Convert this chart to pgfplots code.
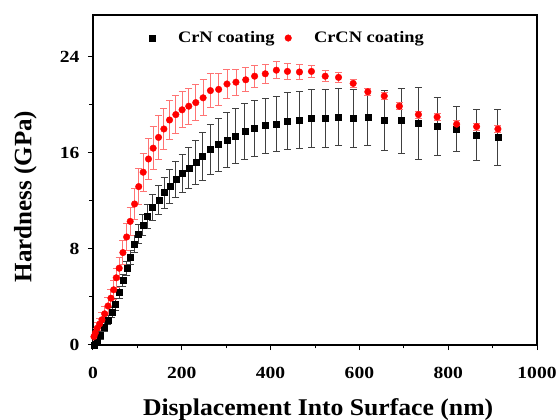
\documentclass[border=0pt]{standalone}
\usepackage{graphicx}
\usepackage{pgfplots}
\usepackage{pgfplotstable}
\usepackage{fontspec}
\setmainfont{Liberation Serif}
\pgfplotsset{compat=1.18}
\pgfplotstableread{
x y e
3 0.0 0.2
9.7 0.2 0.3
17.2 0.8 0.3
26.2 1.5 0.4
33.7 2.1 0.4
42.7 2.7 0.4
51 3.4 0.5
60 4.4 0.5
67.4 5.4 0.5
76.4 6.4 0.6
83.8 7.3 0.6
93.7 8.4 0.7
102.7 9.25 0.8
112.4 10.0 0.9
122 10.75 1.0
134 11.45 1.1
148 12.1 1.2
160 12.7 1.3
173 13.2 1.4
186.5 13.8 1.5
200.7 14.3 1.6
215.7 14.75 1.7
231.5 15.2 1.85
247 15.75 2.0
264.5 16.3 2.1
282.5 16.7 2.2
301.8 17.1 2.3
321 17.4 2.3
342 17.8 2.3
364 18.06 2.35
388 18.28 2.3
413 18.44 2.3
438 18.67 2.4
465 18.75 2.4
492 18.86 2.4
523 18.9 2.4
553 19.0 2.4
586 18.9 2.4
619 19.0 2.4
656 18.7 2.5
694 18.7 2.7
733 18.5 3.0
775 18.2 2.4
819 18.0 1.9
864 17.5 2.1
912 17.3 2.3
}\crn
\pgfplotstableread{
x y e
2.2 0.7 0.3
5.2 1.0 0.4
9.6 1.4 0.5
15 1.75 0.5
20.2 2.1 0.6
26.3 2.6 0.6
33.7 3.25 0.7
40.4 3.9 0.7
46.5 4.6 0.8
52.4 5.6 0.8
59 6.4 0.9
67.4 7.7 1.0
75.7 9.0 1.1
83.8 10.3 1.2
93.7 11.75 1.3
103 13.2 1.5
113 14.4 1.6
125 15.5 1.7
135.5 16.4 1.8
147.6 17.3 1.8
159.6 18.0 1.7
172.4 18.75 1.6
186.5 19.2 1.6
200.7 19.6 1.5
215.7 19.9 1.5
231.5 20.2 1.5
248 20.6 1.5
264.5 21.2 1.4
283 21.3 1.3
301.8 21.75 1.2
322 21.9 1.1
344 22.1 1.0
364 22.4 0.9
388 22.6 0.8
413 22.9 0.7
438 22.8 0.65
465 22.75 0.6
492 22.8 0.5
523 22.4 0.45
553 22.3 0.45
586 21.8 0.35
619 21.1 0.3
656 20.75 0.3
690 19.9 0.3
733 19.2 0.3
775 19.0 0.3
819 18.4 0.3
864 18.2 0.3
912 18.0 0.3
}\crcn
\begin{document}
\begin{tikzpicture}
\useasboundingbox (-93pt,-75pt) rectangle (464pt,345pt);
\begin{axis}[
  at={(0,0)}, anchor=south west,
  scale only axis, width=444pt, height=330pt,
  xmin=0, xmax=1000, ymin=0, ymax=27.5,
  xtick={0,200,...,1000}, ytick={0,8,16,24},
  minor x tick num=1, minor y tick num=1,
  tick pos=left, tick align=outside,
  major tick length=5pt, minor tick length=3.5pt,
  axis line style={line width=1.3pt},
  every tick/.style={black, line width=1pt},
  /pgf/number format/assume math mode=true,
  /pgf/number format/1000 sep={},
  xticklabel={\scalebox{1.15}[1]{\pgfmathprintnumber{\tick}}},
  yticklabel={\scalebox{1.15}[1]{\pgfmathprintnumber{\tick}}},
  tick label style={font=\bfseries\fontsize{17}{19}\selectfont},
  xticklabel style={yshift=-14pt},
  yticklabel style={xshift=-5pt},
  xlabel={\scalebox{1.07}[1]{Displacement Into Surface (nm)}},
  ylabel={Hardness (GPa)},
  label style={font=\bfseries\fontsize{24}{26}\selectfont},
  xlabel style={at={(axis description cs:0.507,-0.197)}, anchor=center},
  ylabel style={font=\bfseries\fontsize{25}{27}\selectfont, at={(axis description cs:-0.119,0.45)}, anchor=south},
  legend columns=2,
  legend image code/.code={\path (0cm,0cm) (0.95cm,0cm); \draw[#1] plot coordinates {(0.12cm,0cm)};},
  legend style={draw=none, fill=none, at={(rel axis cs:0.118,0.962)}, anchor=north west,
    font=\bfseries\fontsize{16}{18}\selectfont, /tikz/every even column/.append style={column sep=8pt}},
]
\addplot[only marks, mark=square*, mark size=3pt, black,
  error bars/.cd, y dir=both, y explicit,
  error bar style={black!75, line width=0.9pt},
  error mark options={rotate=90, mark size=3.5pt, black!75, line width=0.9pt}]
  table[x=x, y=y, y error=e] {\crn};
\addlegendentry{\scalebox{1.15}[1]{CrN coating}}
\addplot[only marks, mark=*, mark size=3.3pt, red,
  error bars/.cd, y dir=both, y explicit,
  error bar style={red!55, line width=0.9pt},
  error mark options={rotate=90, mark size=3.5pt, red!55, line width=0.9pt}]
  table[x=x, y=y, y error=e] {\crcn};
\addlegendentry{\scalebox{1.15}[1]{CrCN coating}}
\end{axis}
\end{tikzpicture}
\end{document}
